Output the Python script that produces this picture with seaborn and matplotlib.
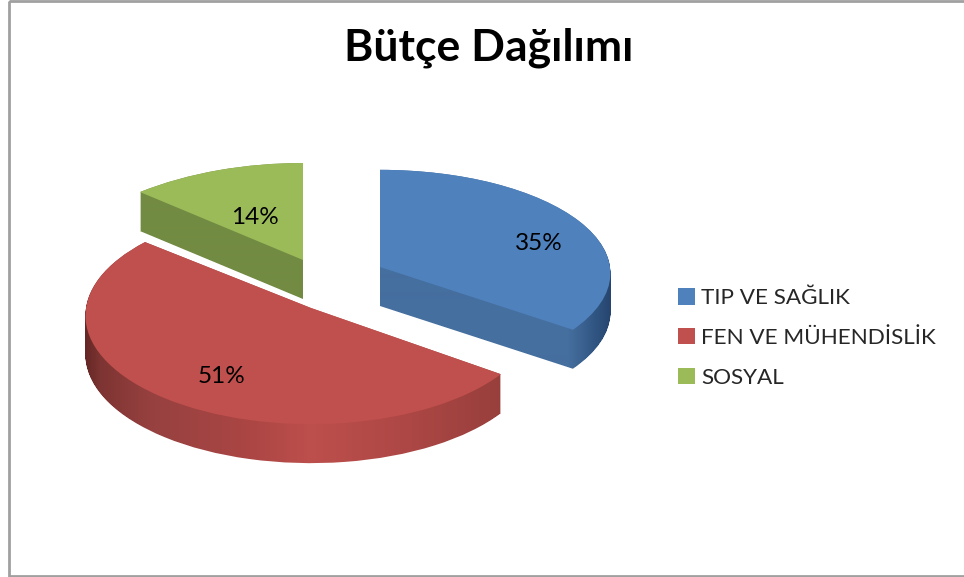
import numpy as np
import seaborn as sns
import matplotlib.pyplot as plt
from matplotlib.patches import Rectangle
from matplotlib.path import Path
from matplotlib.transforms import Transform
from matplotlib.colors import to_rgb

title = 'Bütçe Dağılımı'
categories = ['TIP VE SAĞLIK', 'FEN VE MÜHENDİSLİK', 'SOSYAL']
values = [35, 51, 14]
colors = ['#4F81BD', '#C0504D', '#9BBB59']

sns.set_theme(style='white')
plt.rcParams['font.family'] = ['Lato', 'DejaVu Sans']


# squashes a flat pie slice onto the tilted plane of the 3d pie
class TiltedSlice(Transform):
    input_dims = 2
    output_dims = 2

    def __init__(self, x0, y0, rx, ry, k):
        super().__init__()
        self.x0, self.y0, self.rx, self.ry, self.k = x0, y0, rx, ry, k

    def transform_non_affine(self, values):
        u, v = values[:, 0], values[:, 1]
        w = 1 + self.k * v
        return np.column_stack((self.x0 + self.rx * u / w, self.y0 - self.ry * v / w))


# apex x, apex y, radius x, radius y, perspective
tilts = [(380, 267, 230, 103, 0.06),
         (311, 308, 225, 108, 0.07),
         (303, 260, 256, 129, 0.33)]
depth = 39

# side shading along x: (pixel x, colour)
shades = [[(0, '#456F9F'), (568, '#456F9F'), (572, '#436B9B'), (590, '#345A88'), (610, '#26466E')],
          [(85, '#642725'), (100, '#7D3432'), (150, '#964140'), (250, '#AB4644'), (310, '#BD4F4C'),
           (400, '#AE4846'), (501, '#983F3C')],
          [(0, '#728B42'), (964, '#728B42')]]

fig = plt.figure(figsize=(9.64, 5.77), dpi=100)
ax = fig.add_axes([0, 0, 1, 1])

wedges, _, pcts = ax.pie(values, colors=colors, startangle=90, counterclock=False,
                         autopct='%.0f%%', wedgeprops={'linewidth': 0})
ax.set_aspect('auto')

xs = np.arange(964)
for i, w in enumerate(wedges):
    tilt = TiltedSlice(*tilts[i])
    w.set_transform(tilt + ax.transData)
    w.set_zorder(3)

    # extrude the top face downwards and paint the shading through it
    top = tilt.transform_path(w.get_path())
    layers = [Path(top.vertices + [0, d], top.codes) for d in range(depth + 1)]
    side = Path.make_compound_path(*layers)
    stops = shades[i]
    rgb = np.array([to_rgb(c) for _, c in stops])
    pos = [p for p, _ in stops]
    grad = np.column_stack([np.interp(xs, pos, rgb[:, j]) for j in range(3)])[np.newaxis, :, :]
    im = ax.imshow(grad, extent=(0, 964, 577, 0), aspect='auto', interpolation='bilinear', zorder=2)
    im.set_clip_path(side, ax.transData)

ax.set_xlim(0, 964)
ax.set_ylim(577, 0)
ax.axis('off')

# labels
pct_pos = [(539, 244), (222, 376.5), (255, 217.5)]
for t, p in zip(pcts, pct_pos):
    t.set_position(p)
    t.set_fontsize(17.5)
    t.set_color('black')
    t.set_ha('center')
    t.set_va('center')
    t.set_zorder(5)

ax.text(489, 48, title, fontsize=32, fontweight='bold', color='black', ha='center', va='center')

# chart border
ax.add_patch(Rectangle((9, 1), 1000, 575, fill=False, ec='#A0A0A0', lw=2, zorder=1))

leg = ax.legend(wedges, categories, loc='center left', bbox_to_anchor=(678 / 964, 1 - 338 / 577),
                frameon=False, fontsize=16.2, handlelength=0.75, handleheight=0.75,
                handletextpad=0.27, labelspacing=0.88, borderpad=0, borderaxespad=0)
for h in leg.legend_handles:
    h.set_linewidth(0)

plt.savefig('out.png', dpi=100)
